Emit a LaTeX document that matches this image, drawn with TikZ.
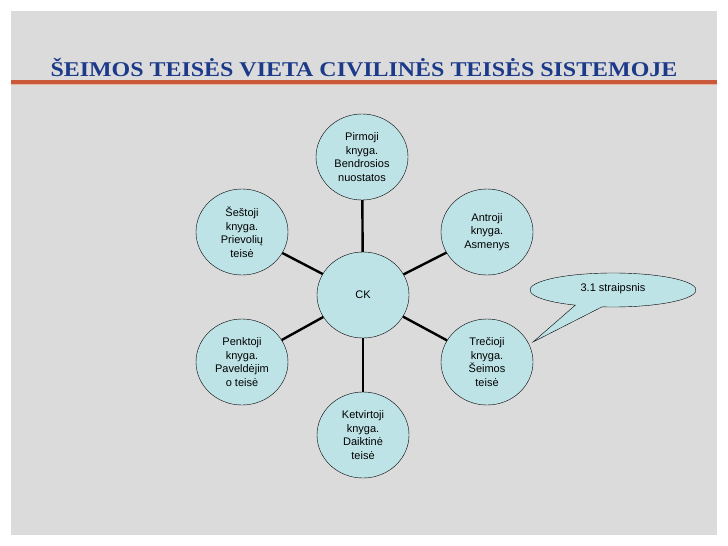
\documentclass[tikz,border=0pt]{standalone}
\usepackage{fontspec}
\setmainfont{Liberation Serif}
\setsansfont{Liberation Sans}
\usetikzlibrary{shapes.geometric}

\definecolor{slidegray}{RGB}{219,219,219}
\definecolor{titleblue}{RGB}{28,58,138}
\definecolor{rulered}{RGB}{204,88,58}
\definecolor{rulepink}{RGB}{232,178,160}
\definecolor{bookfill}{RGB}{190,227,230}

\begin{document}
\begin{tikzpicture}[x=1pt, y=-1pt,
  book/.style={ellipse, draw=black, fill=bookfill, minimum width=92pt,
    minimum height=86pt, inner sep=0pt, align=center,
    font=\sffamily\fontsize{11}{13.5}\selectfont},
  link/.style={line width=2.4pt, black}]
  % Slide background
  \useasboundingbox (0,0) rectangle (728,546);
  \fill[slidegray] (11,11) rectangle (717,535);

  % Title and rule
  \node[anchor=base, text=titleblue, font=\bfseries\fontsize{21}{24}\selectfont]
    (title) at (364,76) {\scalebox{1.14}[1]{ŠEIMOS TEISĖS VIETA CIVILINĖS TEISĖS SISTEMOJE}};
  \fill[rulered] (11,80) rectangle (717,83.5);
  \fill[rulepink] (11,83.5) rectangle (717,85);

  % Centre and the six books
  \node[book] (ck) at (363,295) {CK};
  \node[book] (b1) at (362,157) {Pirmoji\\knyga.\\Bendrosios\\nuostatos};
  \node[book] (b2) at (487,232) {Antroji\\knyga.\\Asmenys};
  \node[book] (b3) at (487,362) {Trečioji\\knyga.\\Šeimos\\teisė};
  \node[book] (b4) at (363,435) {Ketvirtoji\\knyga.\\Daiktinė\\teisė};
  \node[book] (b5) at (242,362) {Penktoji\\knyga.\\Paveldėjim\\o teisė};
  \node[book] (b6) at (242,232) {Šeštoji\\knyga.\\Prievolių\\teisė};

  \foreach \b in {b1,b2,b3,b4,b5,b6}
    \draw[link] (ck) -- (\b);

  % Callout
  \coordinate (tip) at (533,342);
  \filldraw[draw=black, fill=bookfill] (613,290) ++(117:83 and 17)
    arc[start angle=117, end angle=457.6, x radius=83, y radius=17]
    -- (tip) -- cycle;
  \node[font=\sffamily\fontsize{11}{13}\selectfont] (note) at (613,289) {3.1 straipsnis};
\end{tikzpicture}
\end{document}
